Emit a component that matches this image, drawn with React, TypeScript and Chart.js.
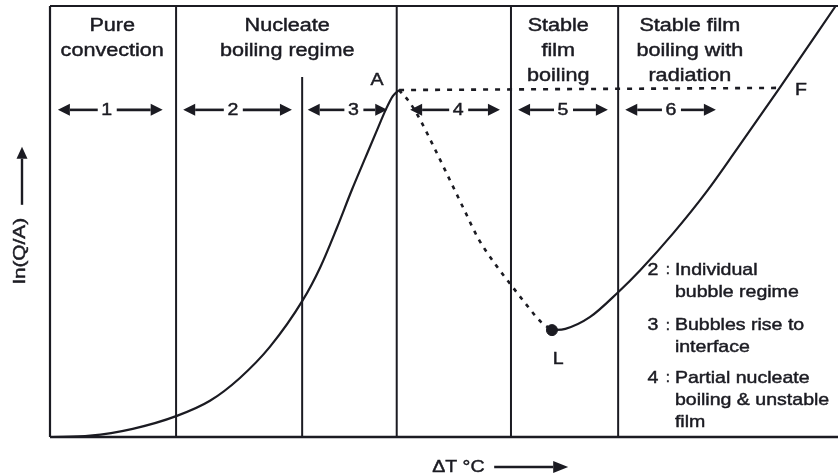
import React, { useEffect, useRef } from 'react';
import { Chart, registerables } from 'chart.js';

Chart.register(...registerables);

// ---- data (ΔT and ln(Q/A) in relative units, 0..100) ----
const boilingX = [0, 5.1, 10.5, 16.1, 20.3, 24.1, 27.9, 32.1, 34.3, 36.4, 38.3, 40.0, 41.5, 42.6, 43.5, 44.3];
const boilingY = [0, 0.3, 1.9, 4.9, 8.4, 13.7, 20.9, 31.8, 39.4, 48.5, 57.3, 64.7, 71.2, 75.9, 79.1, 80.5];

const transitionX = [44.3, 45.7, 47.0, 48.9, 50.8, 52.7, 54.3, 56.5, 58.5, 60.5, 62.3, 63.7];
const transitionY = [80.5, 77.5, 73.5, 66.6, 59.4, 52.2, 46.2, 40.1, 35.3, 30.6, 26.7, 24.8];

const filmX = [63.7, 65.4, 68.5, 72.1, 74.9, 79.1, 83.4, 87.1, 92.6, 99.7];
const filmY = [24.8, 25.1, 27.8, 33.6, 38.7, 47.3, 57.1, 66.6, 81.0, 100];

const criticalX = [44.3, 92.6];
const criticalY = [80.5, 81.0];

const leidenfrostX = [63.7];
const leidenfrostY = [24.8];

const fullBoundaries = [16.0, 44.0, 58.5, 72.1];
const subBoundaryX = 32.0;
const subBoundaryTop = 83.5;

const regimeTitles = [
  ['Pure', 'convection'],
  ['Nucleate', 'boiling regime'],
  ['Stable', 'film', 'boiling'],
  ['Stable film', 'boiling with', 'radiation'],
];
const regimeTitleX = [7.9, 30.1, 64.5, 81.2];
const regimeTitleY = 95.3;

const regimeNumbers = ['1', '2', '3', '4', '5', '6'];
const regimeArrowFrom = [1.0, 16.9, 32.7, 45.7, 59.4, 73.0];
const regimeArrowTo = [14.3, 30.7, 42.8, 57.1, 70.8, 84.5];
const regimeNumberX = [7.2, 23.2, 38.5, 51.8, 65.1, 78.8];
const regimeArrowY = 75.9;

const pointLabels = ['A', 'L', 'F'];
const pointLabelX = [41.5, 64.5, 95.3];
const pointLabelY = [82.8, 18.1, 80.5];

const noteNumbers = ['2', '3', '4'];
const noteLines = [
  ['Individual', 'bubble regime'],
  ['Bubbles rise to', 'interface'],
  ['Partial nucleate', 'boiling & unstable', 'film'],
];
const noteNumberX = 76.5;
const noteColonX = 78.4;
const noteTextX = 79.3;
const noteFirstLineY = [38.7, 25.8, 13.7];

const xTitle = 'ΔT °C';
const yTitle = 'ln(Q/A)';
const xTitleX = 48.5;
const yTitleY = 43.2;

const INK = '#1b1b22';
const FONT = '"Liberation Sans", Arial, Helvetica, sans-serif';

const pts = (xs: number[], ys: number[]) => xs.map((x, i) => ({ x, y: ys[i] }));

function drawText(ctx: CanvasRenderingContext2D, text: string, x: number, y: number, size: number, align: CanvasTextAlign, sx: number) {
  ctx.save();
  ctx.translate(x, y);
  ctx.scale(sx, 1);
  ctx.font = `${size}px ${FONT}`;
  ctx.textAlign = align;
  ctx.textBaseline = 'middle';
  ctx.fillStyle = INK;
  ctx.strokeStyle = INK;
  ctx.lineWidth = 0.45;
  ctx.fillText(text, 0, 0);
  ctx.strokeText(text, 0, 0);
  ctx.restore();
}

function drawArrow(ctx: CanvasRenderingContext2D, x1: number, y1: number, x2: number, y2: number, head: number, half: number, lw: number) {
  const ang = Math.atan2(y2 - y1, x2 - x1);
  const bx = x2 - Math.cos(ang) * head;
  const by = y2 - Math.sin(ang) * head;
  ctx.save();
  ctx.strokeStyle = INK;
  ctx.fillStyle = INK;
  ctx.lineWidth = lw;
  ctx.beginPath();
  ctx.moveTo(x1, y1);
  ctx.lineTo(bx, by);
  ctx.stroke();
  ctx.beginPath();
  ctx.moveTo(x2, y2);
  ctx.lineTo(bx - Math.sin(ang) * half, by + Math.cos(ang) * half);
  ctx.lineTo(bx + Math.sin(ang) * half, by - Math.cos(ang) * half);
  ctx.closePath();
  ctx.fill();
  ctx.restore();
}

const annotationPlugin = {
  id: 'boilingAnnotations',
  afterDatasetsDraw(chart: any) {
    const ctx: CanvasRenderingContext2D = chart.ctx;
    const xs = chart.scales.x;
    const ys = chart.scales.y;
    const area = chart.chartArea;
    const px = (v: number) => xs.getPixelForValue(v);
    const py = (v: number) => ys.getPixelForValue(v);

    // regime titles
    regimeTitles.forEach((lines, i) => {
      lines.forEach((line, j) => {
        drawText(ctx, line, px(regimeTitleX[i]), py(regimeTitleY) + j * 25, 18, 'center', 1.2);
      });
    });

    // regime arrows
    const ay = py(regimeArrowY);
    regimeNumbers.forEach((n, i) => {
      const cx = px(regimeNumberX[i]);
      drawArrow(ctx, cx - 9, ay, px(regimeArrowFrom[i]), ay, 12, 6, 2.6);
      drawArrow(ctx, cx + 10, ay, px(regimeArrowTo[i]), ay, 12, 6, 2.6);
      drawText(ctx, n, cx, ay, 17, 'center', 1.15);
    });

    // point labels
    pointLabels.forEach((t, i) => {
      drawText(ctx, t, px(pointLabelX[i]), py(pointLabelY[i]), 17, 'center', 1.15);
    });

    // notes
    noteNumbers.forEach((n, i) => {
      const y0 = py(noteFirstLineY[i]);
      drawText(ctx, n, px(noteNumberX), y0, 17, 'center', 1.15);
      drawText(ctx, ':', px(noteColonX), y0, 15, 'center', 1.0);
      noteLines[i].forEach((line, j) => {
        drawText(ctx, line, px(noteTextX), y0 + j * 22, 17, 'left', 1.15);
      });
    });

    // x title with arrow
    const xtY = area.bottom + 30;
    const xtX = px(xTitleX);
    drawText(ctx, xTitle, xtX, xtY, 17, 'left', 1.15);
    drawArrow(ctx, xtX + 62, xtY, xtX + 136, xtY, 15, 6, 2.4);

    // y title with arrow (rotated)
    const ytX = 21;
    const ytY = py(yTitleY);
    ctx.save();
    ctx.translate(ytX, ytY);
    ctx.rotate(-Math.PI / 2);
    ctx.scale(1.3, 1);
    ctx.font = `16px ${FONT}`;
    ctx.textAlign = 'center';
    ctx.textBaseline = 'middle';
    ctx.fillStyle = INK;
    ctx.strokeStyle = INK;
    ctx.lineWidth = 0.45;
    ctx.fillText(yTitle, 0, 0);
    ctx.strokeText(yTitle, 0, 0);
    ctx.restore();
    drawArrow(ctx, 22, ytY - 46, 22, ytY - 104, 12, 5.5, 2.4);
  },
};

export default function App() {
  const ref = useRef<HTMLCanvasElement | null>(null);

  useEffect(() => {
    document.body.style.margin = '0';
    document.body.style.background = '#ffffff';
    const canvas = ref.current;
    if (!canvas) return;

    const solid = (data: any[], width = 2.2) => ({
      data,
      showLine: true,
      borderColor: INK,
      borderWidth: width,
      pointRadius: 0,
      pointHoverRadius: 0,
      fill: false,
      clip: false as any,
    });

    const datasets: any[] = [
      // frame
      solid([{ x: 0, y: 0 }, { x: 0, y: 100 }], 2.2),
      solid([{ x: 0, y: 100 }, { x: 100, y: 100 }], 2.2),
      solid([{ x: 0, y: 0 }, { x: 100, y: 0 }], 2.6),
      // region boundaries
      ...fullBoundaries.map((b) => solid([{ x: b, y: 0 }, { x: b, y: 100 }], 2.0)),
      solid([{ x: subBoundaryX, y: 0 }, { x: subBoundaryX, y: subBoundaryTop }], 2.0),
      // nucleate boiling curve
      { ...solid(pts(boilingX, boilingY), 2.2), cubicInterpolationMode: 'monotone' },
      // transition (dashed)
      { ...solid(pts(transitionX, transitionY), 2.6), cubicInterpolationMode: 'monotone', borderDash: [4, 6] },
      // critical flux level (dashed)
      { ...solid(pts(criticalX, criticalY), 2.6), borderDash: [5, 7] },
      // film boiling curve
      { ...solid(pts(filmX, filmY), 2.2), cubicInterpolationMode: 'monotone' },
      // Leidenfrost point
      {
        data: pts(leidenfrostX, leidenfrostY),
        showLine: false,
        pointRadius: 5.5,
        pointHoverRadius: 5.5,
        pointBackgroundColor: INK,
        pointBorderColor: INK,
        clip: false,
      },
    ];

    const chart = new Chart(canvas, {
      type: 'scatter',
      data: { datasets },
      options: {
        animation: false,
        responsive: false,
        devicePixelRatio: 1,
        events: [],
        layout: { autoPadding: false, padding: { left: 50, top: 6, right: 0, bottom: 39 } },
        plugins: { legend: { display: false }, tooltip: { enabled: false } },
        scales: {
          x: { type: 'linear', min: 0, max: 100, display: false },
          y: { type: 'linear', min: 0, max: 100, display: false },
        },
      },
      plugins: [annotationPlugin],
    });

    return () => chart.destroy();
  }, []);

  return <canvas ref={ref} width={838} height={476} style={{ display: 'block' }} />;
}
